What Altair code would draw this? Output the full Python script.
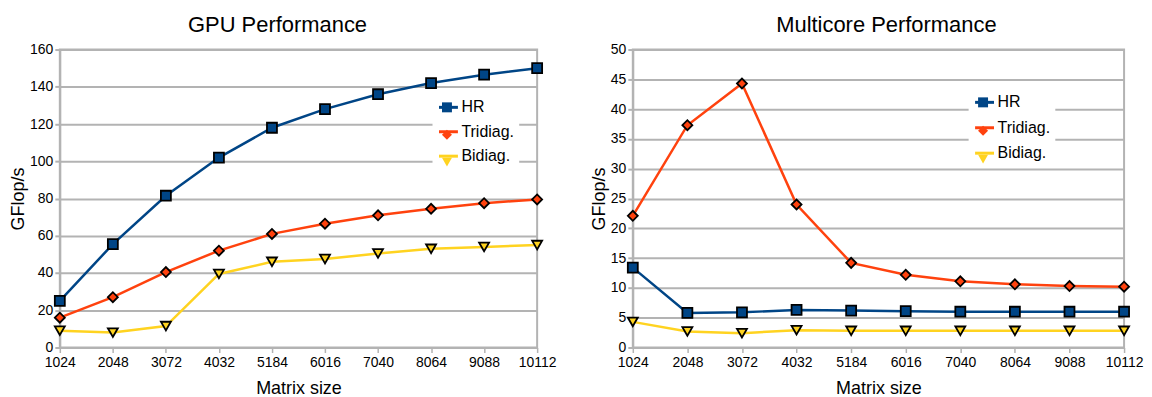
import altair as alt
import pandas as pd

sizes = ["1024", "2048", "3072", "4032", "5184", "6016", "7040", "8064", "9088", "10112"]
series = ["HR", "Tridiag.", "Bidiag."]
colors = ["#004586", "#ff420e", "#ffd320"]
shapes = ["square", "diamond", "triangle-down"]

gpu_hr = [25, 55.5, 81.5, 102, 118, 128, 136, 142, 146.5, 150]
gpu_tri = [16, 27, 40.5, 52, 61, 66.5, 71, 74.5, 77.5, 79.5]
gpu_bi = [9, 8, 11.5, 39.5, 46, 47.5, 50.5, 53, 54, 55]

mc_hr = [13.4, 5.8, 5.9, 6.3, 6.2, 6.1, 6.0, 6.0, 6.0, 6.0]
mc_tri = [22.1, 37.3, 44.3, 24.0, 14.2, 12.2, 11.1, 10.6, 10.3, 10.2]
mc_bi = [4.3, 2.7, 2.4, 2.9, 2.8, 2.8, 2.8, 2.8, 2.8, 2.8]

FONT = "Liberation Sans"
GRID = "#b3b3b3"


def frame(vals):
    rows = []
    for name, arr in zip(series, vals):
        for i, (s, v) in enumerate(zip(sizes, arr)):
            rows.append({"size": s, "idx": i, "series": name, "series_l": name, "value": v})
    return pd.DataFrame(rows)


def panel(title, vals, ymax, ystep, width, lx, ly, rowpad, dx):
    df = frame(vals)
    x = alt.X(
        "size:O", sort=sizes, scale=alt.Scale(type="point", padding=0),
        axis=alt.Axis(title="Matrix size", labelAngle=0, grid=False, domainColor=GRID,
                      domainWidth=2, tickColor=GRID, tickWidth=1.5, tickSize=5,
                      labelFont=FONT, labelFontSize=14, labelColor="black", labelPadding=3,
                      titleFont=FONT, titleFontSize=18, titleFontWeight="normal",
                      titleColor="black", titlePadding=10),
    )
    y = alt.Y(
        "value:Q", scale=alt.Scale(domain=[0, ymax], nice=False),
        axis=alt.Axis(title="GFlop/s", values=list(range(0, ymax + 1, ystep)), grid=True,
                      gridColor=GRID, gridWidth=2, domainColor=GRID, domainWidth=2,
                      tickColor=GRID, tickWidth=2, tickSize=5, labelFont=FONT,
                      labelFontSize=14, labelColor="black", labelPadding=2,
                      titleFont=FONT, titleFontSize=18, titleFontWeight="normal",
                      titleColor="black", titlePadding=2),
    )
    line_leg = alt.Legend(
        title=None, orient="none", legendX=lx, legendY=ly, fillColor="white", padding=5,
        symbolType="stroke", symbolSize=361, symbolStrokeWidth=3, rowPadding=rowpad,
        labelOffset=2, labelFont=FONT, labelFontSize=16, labelColor="black",
        labelExpr="datum.label + '\u00a0\u00a0\u00a0'", zindex=1,
    )
    pt_leg = alt.Legend(
        title=None, orient="none", legendX=lx, legendY=ly, padding=5,
        symbolSize=100, symbolStrokeColor="black", symbolStrokeWidth=2,
        symbolOffset=-1.5, rowPadding=rowpad, labelFontSize=22, labelOpacity=0,
        labelFont=FONT, zindex=2,
    )
    lines = alt.Chart(df).mark_line(strokeWidth=2.5).encode(
        x=x, y=y,
        stroke=alt.Stroke("series_l:N", sort=series, scale=alt.Scale(range=colors), legend=line_leg),
        order=alt.Order("idx:Q"),
    )
    pts = alt.Chart(df).mark_point(filled=True, stroke="black", strokeWidth=1.8, size=100, opacity=1).encode(
        x=x, y=y,
        fill=alt.Fill("series:N", scale=alt.Scale(domain=series, range=colors), legend=pt_leg),
        shape=alt.Shape("series:N", scale=alt.Scale(domain=series, range=shapes), legend=pt_leg),
    )
    return alt.layer(lines, pts).properties(
        width=width, height=299,
        title=alt.TitleParams(title, font=FONT, fontSize=22, fontWeight="normal", color="black",
                              anchor="middle", baseline="bottom", offset=-16, dx=dx),
    )


left = panel("GPU Performance", [gpu_hr, gpu_tri, gpu_bi], 160, 20, 479, 374, 42, 5.5, -21)
right = panel("Multicore Performance", [mc_hr, mc_tri, mc_bi], 50, 5, 493, 337, 37, 6.5, 8)

chart = alt.hconcat(left, right, spacing=32).resolve_scale(
    stroke="independent", fill="independent", shape="independent", y="independent", x="independent"
).configure_view(stroke=GRID, strokeWidth=2).properties(
    padding={"left": 0, "top": 4, "right": 0, "bottom": 0}
)

chart.save("out.html", embed_options={"renderer": "svg", "actions": False})
